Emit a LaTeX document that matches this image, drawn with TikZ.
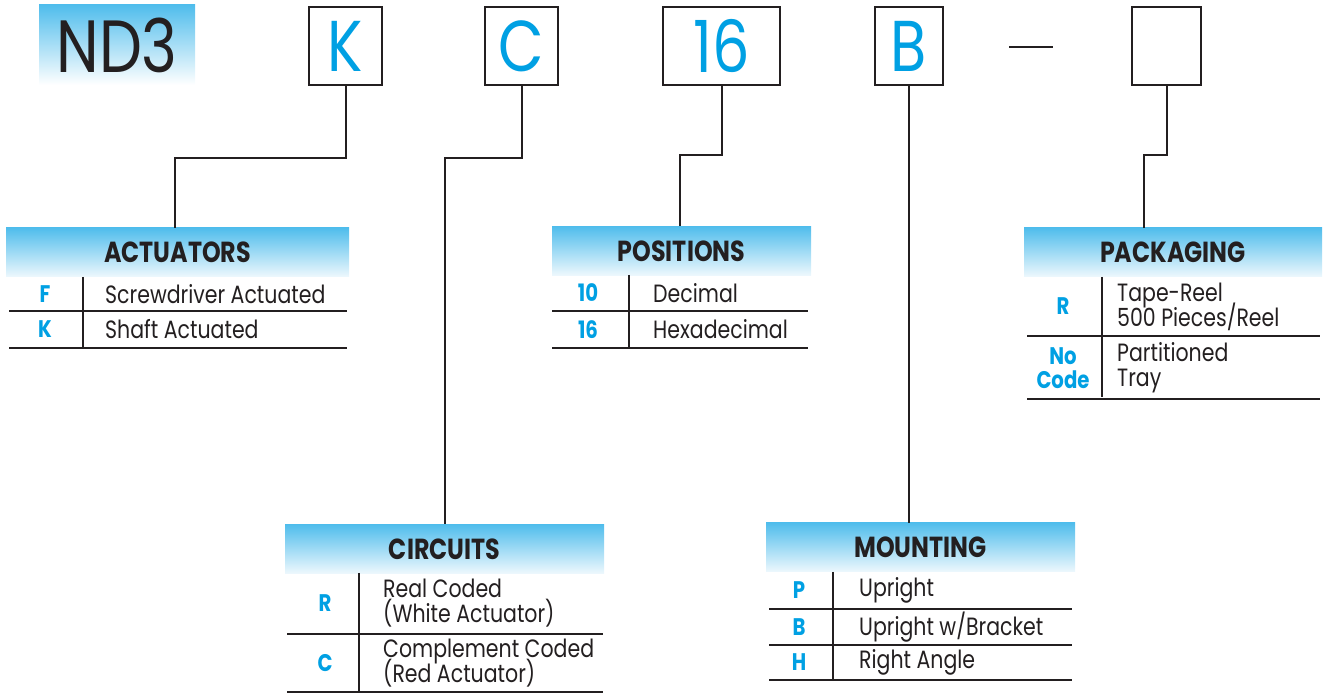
\documentclass[tikz,border=0pt]{standalone}
\usepackage{fontspec}
\setmainfont[FakeStretch=0.82]{Poppins}
\usetikzlibrary{positioning}
\definecolor{codeblue}{RGB}{0,160,227}
\definecolor{hdrtop}{RGB}{80,189,236}
\definecolor{hdrbot}{RGB}{238,248,253}
\definecolor{ink}{RGB}{35,31,32}
\newcommand\tightlines{\lineskiplimit-50pt\relax}
\tikzset{
  codebox/.style={draw=ink, line width=2pt, minimum height=78pt, inner sep=0pt, text=codeblue, font=\fontsize{72}{72}\selectfont},
  hdr/.style={top color=hdrtop, bottom color=hdrbot, minimum height=49pt, inner sep=0pt, text=ink, font=\fontsize{29}{29}\selectfont\bfseries},
  code/.style={text=codeblue, font=\fontsize{24}{24}\selectfont\bfseries\tightlines, align=center, inner sep=0pt},
  desc/.style={anchor=west, text=ink, font=\fontsize{25}{25}\selectfont\tightlines, align=left, inner sep=0pt},
  tline/.style={draw=ink, line width=1.5pt},
  lead/.style={draw=ink, line width=2pt}
}
\begin{document}
\begin{tikzpicture}[x=1pt,y=1pt]
    \useasboundingbox (0,0) rectangle (1323,693);
    % part number boxes
    \node[top color=hdrtop, bottom color=white, minimum width=156pt, minimum height=80pt, inner sep=0pt, text=ink, font=\fontsize{74}{74}\selectfont] (nd3) at (117,648) {ND3};
    \node[codebox, minimum width=73pt] (k) at (345.5,647) {K};
    \node[codebox, minimum width=73pt] (c) at (521.5,647) {C};
    \node[codebox, minimum width=117pt] (pos) at (721.5,647) {16};
    \node[codebox, minimum width=68pt] (b) at (909,647) {B};
    \node[codebox, minimum width=69pt] (pk) at (1166.5,647) {};
    \coordinate (dashL) at (1009,646);
    \coordinate (dashR) at (1053,646);
    \draw[lead] (dashL) -- (dashR);
    % headers
    \node[hdr, minimum width=343pt] (actHdr) at (177.5,440.5) {ACTUATORS};
    \node[hdr, minimum width=259pt] (posHdr) at (681.5,442) {POSITIONS};
    \node[hdr, minimum width=298pt] (pkgHdr) at (1173,440.5) {PACKAGING};
    \node[hdr, minimum width=319pt] (cirHdr) at (444.5,144) {CIRCUITS};
    \node[hdr, minimum width=309pt] (mntHdr) at (920.5,145.5) {MOUNTING};
    % leaders
    \draw[lead] (k.south) -- ++(0,-72) -| ([xshift=-2.5pt]actHdr.north);
    \draw[lead] (c.south) -- ++(0,-72) -| (cirHdr.north);
    \draw[lead] (pos.south) -- ++(0,-69) -| ([xshift=-1.5pt]posHdr.north);
    \draw[lead] (b.south) -- (b.south |- mntHdr.north);
    \draw[lead] (pk.south) -- ++(0,-69) -| ([xshift=-29pt]pkgHdr.north);
    % actuators
    \draw[tline] (83,416) -- (83,345);
    \foreach \y in {382,345} \draw[tline] (9,\y) -- (347,\y);
    \foreach \c/\d/\y [count=\i] in {F/Screwdriver Actuated/399, K/Shaft Actuated/363.5}{
        \node[code] (act-c\i) at (45,\y) {\c};
        \node[desc] (act-d\i) at (105,\y) {\d};
    }
    % positions
    \draw[tline] (629,418) -- (629,345);
    \foreach \y in {382,345} \draw[tline] (552,\y) -- (808,\y);
    \foreach \c/\d/\y [count=\i] in {10/Decimal/400, 16/Hexadecimal/363.5}{
        \node[code] (pos-c\i) at (588,\y) {\c};
        \node[desc] (pos-d\i) at (653,\y) {\d};
    }
    % packaging
    \draw[tline] (1102,416) -- (1102,296);
    \foreach \y in {357,294} \draw[tline] (1027,\y) -- (1320,\y);
    \foreach \c/\d/\y [count=\i] in {R/{Tape-Reel\\500 Pieces/Reel}/386.5, {No\\Code}/{Partitioned\\Tray}/325}{
        \node[code] (pkg-c\i) at (1063,\y) {\c};
        \node[desc] (pkg-d\i) at (1117,\y) {\d};
    }
    % circuits
    \draw[tline] (359,120) -- (359,1);
    \foreach \y in {59,1} \draw[tline] (287,\y) -- (603,\y);
    \foreach \c/\d/\y [count=\i] in {R/{Real Coded\\(White Actuator)}/89.5, C/{Complement Coded\\(Red Actuator)}/30}{
        \node[code] (cir-c\i) at (325,\y) {\c};
        \node[desc] (cir-d\i) at (383,\y) {\d};
    }
    % mounting
    \draw[tline] (833,121) -- (833,12);
    \foreach \y in {84,48,13} \draw[tline] (769,\y) -- (1072,\y);
    \foreach \c/\d/\y [count=\i] in {P/Upright/102.5, B/{Upright w/Bracket}/66, H/Right Angle/30.5}{
        \node[code] (mnt-c\i) at (799,\y) {\c};
        \node[desc] (mnt-d\i) at (859,\y) {\d};
    }
\end{tikzpicture}
\end{document}
